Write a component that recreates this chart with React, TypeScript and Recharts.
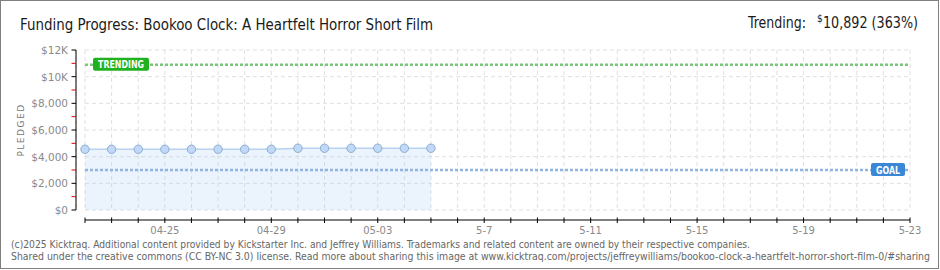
import React from "react";
import { ComposedChart, Area, XAxis, YAxis, CartesianGrid, ReferenceLine } from "recharts";

// daily pledged totals, 04-22 .. 05-05
const dates = ["04-22", "04-23", "04-24", "04-25", "04-26", "04-27", "04-28", "04-29", "04-30", "05-01", "05-02", "05-03", "05-04", "05-05"];
const pledged = [4555, 4555, 4555, 4555, 4555, 4555, 4555, 4555, 4630, 4630, 4630, 4630, 4630, 4630];

const GOAL = 3000;
const TRENDING = 10892;

// x axis: one tick per day of the campaign (04-22 .. 05-23), labels every 4 days
const campaignDays = 31;
const xLabelDays = [3, 7, 11, 15, 19, 23, 27, 31];
const xLabels = ["04-25", "04-29", "05-03", "5-7", "5-11", "5-15", "5-19", "5-23"];

// y axis
const yTicks = [0, 1000, 2000, 3000, 4000, 5000, 6000, 7000, 8000, 9000, 10000, 11000, 12000];
const yLabelValues = [0, 2000, 4000, 6000, 8000, 10000, 12000];
const yLabels = ["$0", "$2,000", "$4,000", "$6,000", "$8,000", "$10K", "$12K"];

const data = pledged.map((v, i) => ({ day: i, date: dates[i], pledged: v }));
const xTicks = Array.from({ length: campaignDays + 1 }, (_, i) => i);

const tickFont = "'DejaVu Sans', Verdana, sans-serif";

const XTick = (props: any) => {
  const { x, y, payload } = props;
  const idx = xLabelDays.indexOf(payload.value);
  return (
    <g>
      <line x1={x} x2={x} y1={y - 2.5} y2={y + 3} stroke="#000" strokeWidth={1} />
      {idx >= 0 && (
        <text x={x} y={y + 14} textAnchor="middle" fontFamily={tickFont} fontSize={10} fill="#8a8a8a">
          {xLabels[idx]}
        </text>
      )}
    </g>
  );
};

const YTick = (props: any) => {
  const { x, y, payload } = props;
  const idx = yLabelValues.indexOf(payload.value);
  return (
    <g>
      <line x1={x - 4.5} x2={x} y1={y} y2={y} stroke={idx >= 0 ? "#000" : "#e00000"} strokeWidth={1} />
      {idx >= 0 && (
        <text x={x - 8} y={y + 4} textAnchor="end" fontFamily={tickFont} fontSize={10.5} fill="#8a8a8a">
          {yLabels[idx]}
        </text>
      )}
    </g>
  );
};

const Dot = (props: any) => {
  const { cx, cy, index } = props;
  if (cx == null || cy == null) return null;
  return <circle key={`dot-${index}`} cx={cx} cy={cy} r={4.2} fill="#c2d9f5" stroke="#8badd6" strokeWidth={1} />;
};

const Tag = (props: any) => {
  const { viewBox, text, color, side, w } = props;
  if (!viewBox) return null;
  const bx = side === "left" ? viewBox.x + 8 : viewBox.x + viewBox.width - w - 5;
  const by = viewBox.y - 7;
  return (
    <g>
      <rect x={bx} y={by} width={w} height={13} rx={2} fill={color} />
      <text
        x={bx + 5}
        y={by + 10.5}
        fontFamily={tickFont}
        fontWeight="bold"
        fontSize={10}
        fill="#fff"
        textLength={w - 10}
        lengthAdjust="spacingAndGlyphs"
      >
        {text}
      </text>
    </g>
  );
};

export default function App() {
  return (
    <div style={{ position: "absolute", left: 0, top: 0, width: 940, height: 270, background: "#fff", overflow: "hidden" }}>
      <ComposedChart
        width={940}
        height={270}
        data={data}
        margin={{ top: 50, right: 30, bottom: 20, left: 0 }}
        style={{ position: "absolute", left: 0, top: 0 }}
      >
        <CartesianGrid x={85} y={50} width={825} height={160} stroke="#e0e0e0" strokeDasharray="4 3" horizontalValues={yLabelValues} />
        <XAxis
          type="number"
          dataKey="day"
          domain={[0, campaignDays]}
          ticks={xTicks}
          interval={0}
          padding={{ left: 9, right: 0 }}
          height={30}
          tickSize={0}
          tickMargin={0}
          tickLine={false}
          axisLine={{ stroke: "#000", strokeDasharray: "0 9 900" }}
          tick={<XTick />}
        />
        <YAxis
          type="number"
          domain={[0, 12000]}
          ticks={yTicks}
          interval={0}
          padding={{ top: 0, bottom: 10 }}
          width={76}
          tickSize={0}
          tickMargin={0}
          tickLine={false}
          axisLine={{ stroke: "#000", strokeDasharray: "160 20" }}
          tick={<YTick />}
        />
        <Area
          type="linear"
          dataKey="pledged"
          stroke="#b5d2f2"
          strokeWidth={1.5}
          fill="#9cc3f0"
          fillOpacity={0.2}
          dot={<Dot />}
          activeDot={false}
          isAnimationActive={false}
        />
        <ReferenceLine
          segment={[{ x: 0, y: GOAL }, { x: campaignDays, y: GOAL }]}
          stroke="#8fb5e2"
          strokeWidth={2.5}
          strokeDasharray="3 2"
          label={(p: any) => <Tag {...p} text="GOAL" color="#3a87d6" side="right" w={34} />}
        />
        <ReferenceLine
          segment={[{ x: 0, y: TRENDING }, { x: campaignDays, y: TRENDING }]}
          stroke="#78c878"
          strokeWidth={2.5}
          strokeDasharray="3 2"
          label={(p: any) => <Tag {...p} text="TRENDING" color="#1fb11f" side="left" w={56} />}
        />
      </ComposedChart>
      <svg width={940} height={270} style={{ position: "absolute", left: 0, top: 0, pointerEvents: "none" }}>
        <rect x={0.5} y={0.5} width={938} height={268} fill="none" stroke="#808080" strokeWidth={1} />
        <text x={20} y={30} fontFamily="'Liberation Sans Narrow', 'DejaVu Sans Condensed', sans-serif" fontSize={16} fill="#1a1a1a" textLength={413} lengthAdjust="spacingAndGlyphs">
          Funding Progress: Bookoo Clock: A Heartfelt Horror Short Film
        </text>
        <text x={748} y={28} fontFamily="'Liberation Sans Narrow', 'DejaVu Sans Condensed', sans-serif" fontSize={16} fill="#1a1a1a" textLength={58} lengthAdjust="spacingAndGlyphs">
          Trending:
        </text>
        <text x={817} y={22} fontFamily="'Liberation Sans Narrow', 'DejaVu Sans Condensed', sans-serif" fontSize={10} fill="#1a1a1a">
          $
        </text>
        <text x={823} y={28} fontFamily="'Liberation Sans Narrow', 'DejaVu Sans Condensed', sans-serif" fontSize={16} fill="#1a1a1a" textLength={95} lengthAdjust="spacingAndGlyphs">
          10,892 (363%)
        </text>
        <text
          x={0}
          y={0}
          transform="translate(24,130) rotate(-90)"
          textAnchor="middle"
          fontFamily={tickFont}
          fontSize={9}
          letterSpacing={1.5}
          fill="#777"
        >
          PLEDGED
        </text>
        <text x={11} y={247.5} fontFamily="'DejaVu Sans Condensed', 'Liberation Sans', sans-serif" fontSize={10} fill="#666" textLength={739} lengthAdjust="spacingAndGlyphs">
          (c)2025 Kicktraq. Additional content provided by Kickstarter Inc. and Jeffrey Williams. Trademarks and related content are owned by their respective companies.
        </text>
        <text x={11} y={259.5} fontFamily="'DejaVu Sans Condensed', 'Liberation Sans', sans-serif" fontSize={10} fill="#666" textLength={919} lengthAdjust="spacingAndGlyphs">
          Shared under the creative commons (CC BY-NC 3.0) license. Read more about sharing this image at www.kicktraq.com/projects/jeffreywilliams/bookoo-clock-a-heartfelt-horror-short-film-0/#sharing
        </text>
      </svg>
    </div>
  );
}
